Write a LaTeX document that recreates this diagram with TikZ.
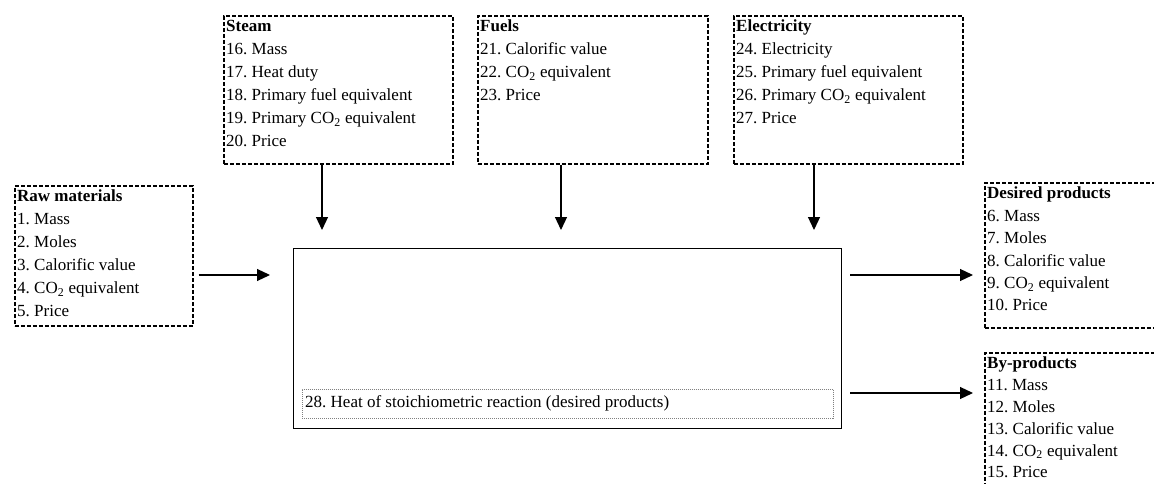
\documentclass[tikz,border=0pt]{standalone}
\usepackage{fontspec}
\setmainfont{Liberation Serif}
\usetikzlibrary{arrows.meta}
\newcommand\cotwo{CO\textsubscript{2}}
\frenchspacing
\begin{document}
\begin{tikzpicture}[x=1pt,y=-1pt,
  databox/.style={draw,line width=1.7pt,dash pattern=on 4pt off 2pt,anchor=north west,inner sep=0pt},
  listtext/.style={anchor=north west,align=left,inner sep=0pt,font=\fontsize{17}{23}\selectfont},
  flow/.style={line width=1.2pt,-{Triangle[length=13pt,width=12pt]}}]
\useasboundingbox (0,0) rectangle (1154,484);
\clip (0,0) rectangle (1154,484);
\node[databox,minimum width=178pt,minimum height=140pt] (raw) at (14,185) {};
\node[listtext] (rawtext) at ([shift={(3,5)}]raw.north west) {\textbf{Raw materials}\\1. Mass\\2. Moles\\3. Calorific value\\4. \cotwo{} equivalent\\5. Price};
\node[databox,minimum width=229pt,minimum height=148pt] (steam) at (223,15) {};
\node[listtext] (steamtext) at ([shift={(3,5)}]steam.north west) {\textbf{Steam}\\16. Mass\\17. Heat duty\\18. Primary fuel equivalent\\19. Primary \cotwo{} equivalent\\20. Price};
\node[databox,minimum width=230pt,minimum height=148pt] (fuels) at (477,15) {};
\node[listtext] (fuelstext) at ([shift={(3,5)}]fuels.north west) {\textbf{Fuels}\\21. Calorific value\\22. \cotwo{} equivalent\\23. Price};
\node[databox,minimum width=229pt,minimum height=148pt] (elec) at (733,15) {};
\node[listtext] (electext) at ([shift={(3,5)}]elec.north west) {\textbf{Electricity}\\24. Electricity\\25. Primary fuel equivalent\\26. Primary \cotwo{} equivalent\\27. Price};
\node[databox,minimum width=190pt,minimum height=145pt] (desired) at (984,182) {};
\node[listtext,font=\fontsize{17}{22.4}\selectfont] (desiredtext) at ([shift={(3,5)}]desired.north west) {\textbf{Desired products}\\6. Mass\\7. Moles\\8. Calorific value\\9. \cotwo{} equivalent\\10. Price};
\node[databox,minimum width=190pt,minimum height=150pt] (byprod) at (984,352) {};
\node[listtext,font=\fontsize{17}{21.8}\selectfont] (byprodtext) at ([shift={(3,5)}]byprod.north west) {\textbf{By-products}\\11. Mass\\12. Moles\\13. Calorific value\\14. \cotwo{} equivalent\\15. Price};
\node[draw,line width=1.3pt,anchor=north west,inner sep=0pt,minimum width=548pt,minimum height=180pt] (unit) at (293,248) {};
\node[draw=gray,line width=0.6pt,dash pattern=on 1pt off 1pt,anchor=north west,inner sep=0pt,minimum width=531pt,minimum height=29pt] (heat) at (302,389) {};
\node[listtext,anchor=west] (heattext) at ([xshift=3pt]heat.west) {28. Heat of stoichiometric reaction (desired products)};
\coordinate (rawin) at (270,275);
\coordinate (steamin) at (322,230);
\coordinate (fuelsin) at (561,230);
\coordinate (elecin) at (814,230);
\coordinate (desiredin) at (973,275);
\coordinate (byprodin) at (973,393);
\draw[flow,shorten <=5pt] (raw.east |- rawin) -- (rawin);
\draw[flow] (steam.south -| steamin) -- (steamin);
\draw[flow] (fuels.south -| fuelsin) -- (fuelsin);
\draw[flow] (elec.south -| elecin) -- (elecin);
\draw[flow,shorten <=8pt] (unit.east |- desiredin) -- (desiredin);
\draw[flow,shorten <=8pt] (unit.east |- byprodin) -- (byprodin);
\end{tikzpicture}
\end{document}
